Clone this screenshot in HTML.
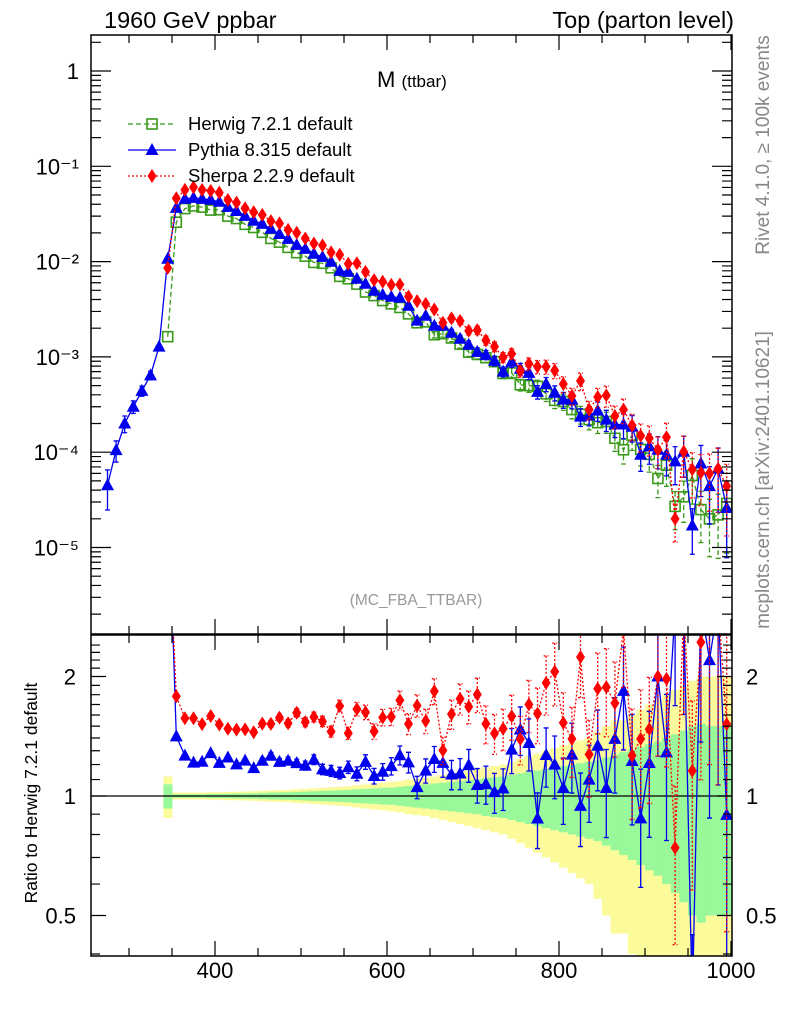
<!DOCTYPE html>
<html><head><meta charset="utf-8"><style>
html,body{margin:0;padding:0;background:#fff;width:786px;height:1024px;overflow:hidden;}
svg{display:block;font-family:"Liberation Sans",Arial,sans-serif;}
</style></head><body>
<svg id="chart" width="786" height="1024" viewBox="0 0 786 1024" xmlns="http://www.w3.org/2000/svg">
<defs>
<clipPath id="clipMain"><rect x="91" y="35" width="641" height="599"/></clipPath>
<clipPath id="clipRatio"><rect x="91" y="635" width="641" height="321"/></clipPath>
</defs>
<rect x="0" y="0" width="786" height="1024" fill="#fff"/>
<g id="ratioBand" clip-path="url(#clipRatio)"></g>
<g id="grid"></g>
<g id="mainMarks" clip-path="url(#clipMain)"></g>
<g id="ratioMarks" clip-path="url(#clipRatio)"></g>
<g id="axes"></g>
<text x="104" y="28" font-size="23.5">1960 GeV ppbar</text>
<text x="734" y="28" font-size="23.5" text-anchor="end">Top (parton level)</text>
<text x="377" y="87" font-size="22">M <tspan font-size="17">(ttbar)</tspan></text>
<text x="416" y="605" font-size="15.5" fill="#999" text-anchor="middle">(MC_FBA_TTBAR)</text>
<text transform="translate(769,145) rotate(-90)" font-size="19" fill="#888" text-anchor="middle">Rivet 4.1.0, ≥ 100k events</text>
<text transform="translate(769,480) rotate(-90)" font-size="19" fill="#888" text-anchor="middle">mcplots.cern.ch [arXiv:2401.10621]</text>
<text transform="translate(37,793) rotate(-90)" font-size="17.5" text-anchor="middle">Ratio to Herwig 7.2.1 default</text>
<g id="legend"></g>
</svg>
<script>
const masses = [275,285,295,305,315,325,335,345,355,365,375,385,395,405,415,425,435,445,455,465,475,485,495,505,515,525,535,545,555,565,575,585,595,605,615,625,635,645,655,665,675,685,695,705,715,725,735,745,755,765,775,785,795,805,815,825,835,845,855,865,875,885,895,905,915,925,935,945,955,965,975,985,995];
const pythiaVals = [4.5e-5,1.05e-4,2.0e-4,3.0e-4,4.4e-4,6.4e-4,1.28e-3,1.07e-2,3.66e-2,4.55e-2,
4.66e-2,4.55e-2,4.45e-2,4.24e-2,3.75e-2,3.40e-2,3.02e-2,2.68e-2,2.49e-2,2.21e-2,
1.95e-2,1.73e-2,1.50e-2,1.36e-2,1.21e-2,1.12e-2,9.95e-3,8.0e-3,7.8e-3,6.6e-3,
5.85e-3,4.94e-3,4.49e-3,4.28e-3,4.18e-3,3.44e-3,2.40e-3,2.70e-3,2.12e-3,2.12e-3,
1.79e-3,1.55e-3,1.34e-3,1.13e-3,1.05e-3,9.1e-4,7.0e-4,8.9e-4,7.5e-4,6.8e-4,
4.3e-4,5.2e-4,4.2e-4,3.56e-4,3.56e-4,2.36e-4,2.42e-4,2.73e-4,2.20e-4,1.95e-4,
1.95e-4,1.85e-4,9.4e-5,1.15e-4,1.06e-4,9.4e-5,8.0e-5,1.01e-4,1.7e-5,7.6e-5,
4.4e-5,6.7e-5,2.6e-5];
const herwigVals = [null,null,null,null,null,null,null,1.63e-3,
2.59e-2,3.60e-2,3.84e-2,3.73e-2,3.47e-2,3.50e-2,3.00e-2,2.83e-2,2.46e-2,2.28e-2,
2.03e-2,1.75e-2,1.60e-2,1.41e-2,1.24e-2,1.14e-2,9.8e-3,9.6e-3,8.6e-3,7.0e-3,
6.6e-3,5.8e-3,4.8e-3,4.4e-3,3.9e-3,3.6e-3,3.3e-3,2.83e-3,2.28e-3,2.33e-3,
1.71e-3,1.75e-3,1.58e-3,1.36e-3,1.12e-3,1.06e-3,9.8e-4,8.9e-4,6.7e-4,6.8e-4,
5.1e-4,5.0e-4,4.9e-4,4.1e-4,3.5e-4,3.4e-4,2.8e-4,2.5e-4,2.2e-4,2.04e-4,
2.1e-4,1.40e-4,1.06e-4,1.51e-4,1.07e-4,9.5e-5,5.3e-5,7.3e-5,2.7e-5,3.4e-5,
5.7e-5,2.5e-5,2.0e-5,2.2e-5,2.9e-5];
const sherpaVals = [null,null,null,null,null,null,null,8.6e-3,
4.62e-2,5.65e-2,6.03e-2,5.66e-2,5.52e-2,5.30e-2,4.43e-2,4.16e-2,3.62e-2,3.30e-2,
3.09e-2,2.66e-2,2.52e-2,2.15e-2,2.01e-2,1.75e-2,1.55e-2,1.48e-2,1.25e-2,1.18e-2,
9.5e-3,9.6e-3,7.8e-3,6.4e-3,6.15e-3,5.7e-3,5.75e-3,4.3e-3,3.85e-3,3.6e-3,
3.14e-3,2.28e-3,2.54e-3,2.39e-3,1.88e-3,1.91e-3,1.49e-3,1.28e-3,9.9e-4,1.08e-3,
7.1e-4,8.5e-4,7.9e-4,7.9e-4,7.2e-4,5.2e-4,3.9e-4,5.6e-4,2.8e-4,3.8e-4,
3.95e-4,2.4e-4,2.8e-4,1.91e-4,1.49e-4,1.40e-4,1.06e-4,1.44e-4,2.0e-5,1.01e-4,
6.6e-5,6.1e-5,6.0e-5,6.7e-5,4.4e-5];
const relErr = [0.45,0.25,0.2,0.15,0.12,0.1,0.06,0.03,
0.01,0.01,0.01,0.01,0.01,0.012,0.012,0.014,0.015,0.016,0.018,0.02,
0.02,0.022,0.024,0.026,0.028,0.03,0.032,0.034,0.036,0.04,
0.042,0.045,0.048,0.05,0.055,0.06,0.065,0.07,0.075,0.08,
0.085,0.09,0.095,0.1,0.11,0.115,0.12,0.13,0.14,0.15,
0.16,0.17,0.18,0.19,0.2,0.21,0.22,0.23,0.25,0.27,
0.29,0.31,0.33,0.35,0.37,0.4,0.43,0.46,0.5,0.55,
0.6,0.65,0.7];
const totErr = [0.45,0.25,0.2,0.15,0.12,0.1,0.06,0.12,
0.02,0.02,0.02,0.02,0.022,0.022,0.024,0.025,0.026,0.028,0.03,0.032,
0.034,0.036,0.04,0.042,0.045,0.048,0.052,0.055,0.058,0.065,
0.07,0.075,0.08,0.085,0.09,0.1,0.105,0.11,0.12,0.13,
0.14,0.15,0.16,0.17,0.18,0.19,0.2,0.22,0.24,0.26,
0.28,0.3,0.32,0.34,0.36,0.38,0.4,0.45,0.5,0.55,
0.55,0.6,0.65,0.7,0.75,0.8,0.85,0.9,0.95,1.0,
1.0,1.0,1.0];
const statBandErr = [0,0,0,0,0,0,0,0.07,
0.01,0.01,0.01,0.01,0.012,0.012,0.013,0.014,0.015,0.016,0.018,0.02,
0.021,0.022,0.024,0.026,0.028,0.03,0.032,0.034,0.036,0.04,
0.042,0.045,0.048,0.05,0.055,0.06,0.065,0.07,0.075,0.08,
0.085,0.09,0.095,0.1,0.11,0.115,0.12,0.13,0.14,0.15,
0.16,0.17,0.18,0.19,0.2,0.21,0.22,0.23,0.25,0.27,
0.29,0.31,0.33,0.35,0.37,0.4,0.43,0.46,0.5,0.52,
0.5,0.5,0.5];
const xTicks = [400,600,800,1000];
const yDecades = [0,-1,-2,-3,-4,-5];
const yDecadeLabels = ["1","10\u207B\u00B9","10\u207B\u00B2","10\u207B\u00B3","10\u207B\u2074","10\u207B\u2075"];
const ratioTicks = [0.5,1,2];
const ratioTickLabels = ["0.5","1","2"];

const NS="http://www.w3.org/2000/svg";
const L=91,R=732,MT=35,MB=634,RT=635,RB=956;
function xs(v){return 215+(v-400)*0.86;}
function ys(v){return 71-95.3*Math.log10(v);}
function yr(r){return 796-119.5*Math.log2(r);}
function mk(tag,attrs,parent){const e=document.createElementNS(NS,tag);for(const k in attrs)e.setAttribute(k,attrs[k]);parent.appendChild(e);return e;}
const gGrid=document.getElementById('grid'),gAx=document.getElementById('axes');
const gMain=document.getElementById('mainMarks'),gRat=document.getElementById('ratioMarks'),gBand=document.getElementById('ratioBand'),gLeg=document.getElementById('legend');

for(let i=0;i<masses.length;i++){
  if(herwigVals[i]==null)continue;
  const x0=xs(masses[i]-5),x1=xs(masses[i]+5);
  const t=totErr[i];
  const y1=yr(1+t),y2=yr(Math.max(1-t,0.05));
  const b=mk('rect',{x:x0,y:y1,width:x1-x0+0.5,height:y2-y1,fill:'#fbfb9b'},gBand);
  
  
}
for(let i=0;i<masses.length;i++){
  if(herwigVals[i]==null)continue;
  const x0=xs(masses[i]-5),x1=xs(masses[i]+5);
  const s=statBandErr[i];
  const y1=yr(1+s),y2=yr(Math.max(1-s,0.05));
  const b=mk('rect',{x:x0,y:y1,width:x1-x0+0.5,height:y2-y1,fill:'#99f899'},gBand);
  
  
}
const unity=mk('line',{x1:L,x2:R,y1:yr(1),y2:yr(1),stroke:'#000','stroke-width':1.3},gGrid);



function marker(type,x,y,color,parent){
  let e;
  if(type==='sq') e=mk('rect',{x:x-5,y:y-5,width:10,height:10,fill:'none',stroke:color,'stroke-width':1.6},parent);
  else if(type==='tri') e=mk('polygon',{points:`${x},${y-7} ${x-6.5},${y+5} ${x+6.5},${y+5}`,fill:color},parent);
  else e=mk('polygon',{points:`${x},${y-7} ${x-4.5},${y} ${x},${y+7} ${x+4.5},${y}`,fill:color},parent);
  return e;
}
const series=[
 {name:'herwig',vals:herwigVals,color:'#3a9a1a',dash:'5,3',type:'sq'},
 {name:'pythia',vals:pythiaVals,color:'#0000ee',dash:'',type:'tri'},
 {name:'sherpa',vals:sherpaVals,color:'#ff0000',dash:'2,2',type:'dia'}
];
series.forEach(s=>{
  const g=mk('g',{},gMain);
  
  
  let pts=[];
  for(let i=0;i<masses.length;i++){ if(s.vals[i]==null)continue; pts.push([xs(masses[i]),ys(s.vals[i]),i]); }
  const ln=mk('polyline',{points:pts.map(p=>p[0]+','+p[1]).join(' '),fill:'none',stroke:s.color,'stroke-width':1.3,'stroke-dasharray':s.dash},g);
  
  
  pts.forEach(p=>{
    const v=s.vals[p[2]],e=relErr[p[2]];
    const yh=ys(v*(1+e)),yl=ys(Math.max(v*(1-e),1e-9));
    if(yl-yh>6){
      const eb=mk('path',{d:`M${p[0]},${yh}V${yl}M${p[0]-2.5},${yh}h5M${p[0]-2.5},${yl}h5`,stroke:s.color,'stroke-width':1.3,fill:'none','stroke-dasharray':s.dash},g);
      
      
    }
    const m=marker(s.type,p[0],p[1],s.color,g);
    
    
  });
});
series.slice(1).forEach(s=>{
  const g=mk('g',{},gRat);
  
  
  let pts=[];
  for(let i=0;i<masses.length;i++){ if(s.vals[i]==null||herwigVals[i]==null)continue; pts.push([xs(masses[i]),s.vals[i]/herwigVals[i],i]); }
  const ln=mk('polyline',{points:pts.map(p=>p[0]+','+yr(p[1])).join(' '),fill:'none',stroke:s.color,'stroke-width':1.3,'stroke-dasharray':s.dash},g);
  
  
  pts.forEach(p=>{
    const r=p[1],e=relErr[p[2]];
    const yh=yr(r*(1+e)),yl=yr(Math.max(r*(1-e),0.01));
    if(yl-yh>6){
      const eb=mk('path',{d:`M${p[0]},${yh}V${yl}M${p[0]-2.5},${yh}h5M${p[0]-2.5},${yl}h5`,stroke:s.color,'stroke-width':1.3,fill:'none','stroke-dasharray':s.dash},g);
      
      
    }
    const m=marker(s.type,p[0],yr(r),s.color,g);
    
    
  });
});

const f1=mk('rect',{x:L,y:MT,width:R-L,height:MB-MT,fill:'none',stroke:'#000','stroke-width':1.5},gAx);


const f2=mk('rect',{x:L,y:RT,width:R-L,height:RB-RT,fill:'none',stroke:'#000','stroke-width':1.5},gAx);



let d='';
for(let v=300;v<=1000;v+=50){
  const x=xs(v),maj=(v%200===0),len=maj?15:8;
  d+=`M${x},${MT}v${len}M${x},${MB}v${-len}M${x},${RT}v${len}M${x},${RB}v${-len}`;
}
for(let dec=-6;dec<=0;dec++){
  for(let m=1;m<=9;m++){
    const v=m*Math.pow(10,dec),y=ys(v);
    if(y<MT||y>MB)continue;
    const len=m===1?20:10;
    d+=`M${L},${y}h${len}M${R},${y}h${-len}`;
  }
}
for(let r=0.4;r<=2.5;r+=0.1){
  const rr=Math.round(r*10)/10,y=yr(rr);
  if(y<RT||y>RB)continue;
  const maj=(rr===0.5||rr===1||rr===2),len=maj?15:9;
  d+=`M${L},${y}h${len}M${R},${y}h${-len}`;
}
const ticks=mk('path',{d:d,stroke:'#000','stroke-width':1.2,fill:'none'},gAx);



xTicks.forEach(v=>{
  const t=mk('text',{x:xs(v),y:978,'font-size':22,'text-anchor':'middle'},gAx);
  t.textContent=String(v);
  
  
});
yDecades.forEach((dd,i)=>{
  const t=mk('text',{x:79,y:ys(Math.pow(10,dd))+8,'font-size':22,'text-anchor':'end'},gAx);
  t.textContent=yDecadeLabels[i];
  
  
});
ratioTicks.forEach((r,i)=>{
  const t=mk('text',{x:76,y:yr(r)+8,'font-size':22,'text-anchor':'end'},gAx);
  t.textContent=ratioTickLabels[i];
  
  
  const t2=mk('text',{x:746,y:yr(r)+8,'font-size':22,'text-anchor':'start'},gAx);
  t2.textContent=ratioTickLabels[i];
  
  
});

const legItems=[['Herwig 7.2.1 default',series[0]],['Pythia 8.315 default',series[1]],['Sherpa 2.2.9 default',series[2]]];
legItems.forEach((it,i)=>{
  const y=124+i*26,s=it[1];
  const g=mk('g',{},gLeg);
  
  
  mk('line',{x1:128,x2:176,y1:y,y2:y,stroke:s.color,'stroke-width':1.3,'stroke-dasharray':s.dash},g);
  marker(s.type,152,y,s.color,g);
  const t=mk('text',{x:188,y:y+6,'font-size':18.5},g);
  t.textContent=it[0];
});
</script>
</body></html>
